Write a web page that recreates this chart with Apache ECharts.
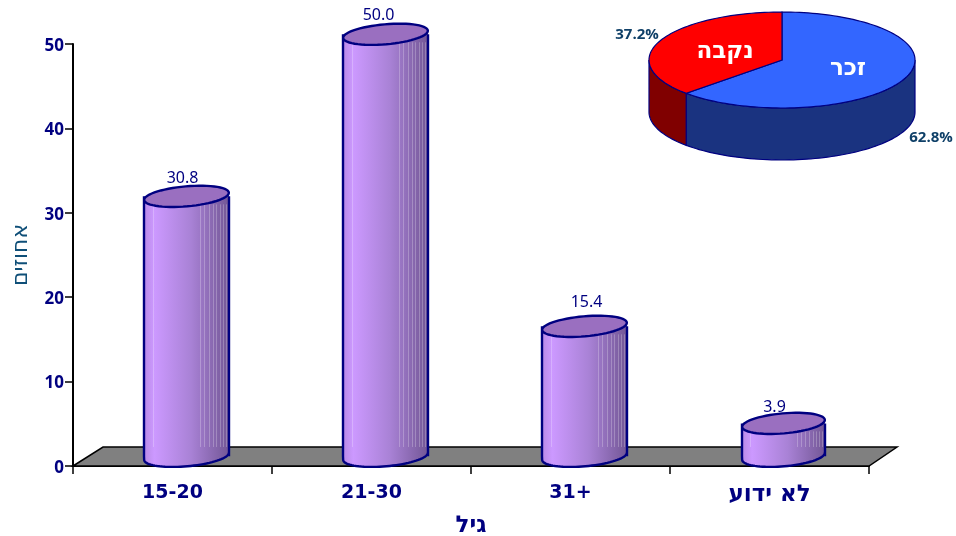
<!DOCTYPE html>
<html><head><meta charset="utf-8">
<style>html,body{margin:0;padding:0;background:#fff}#c{width:956px;height:536px}</style>
<script src="https://cdn.jsdelivr.net/npm/echarts@6/dist/echarts.min.js"></script>
</head><body><div id="c"></div>
<script>
const ageCategories = ['15-20', '21-30', '31+', 'לא ידוע'];
const ageValues = [30.8, 50.0, 15.4, 3.9];
const yTicks = {min: 0, max: 50, interval: 10};
const genderNames = ['זכר', 'נקבה'];
const genderValues = [62.8, 37.2];
const genderLabels = ['62.8%', '37.2%'];
const xAxisTitle = 'גיל';
const yAxisTitle = 'אחוזים';

const NAVY = '#000080';
const LABEL_FONT = '"DejaVu Sans", sans-serif';
const NUM_FONT = '"Noto Sans", "DejaVu Sans", sans-serif';
const chart = echarts.init(document.getElementById('c'), null, {renderer: 'canvas'});

function ellipsePoint(cx, cy, rx, ry, tilt, t) {
  const c = Math.cos(t), s = Math.sin(t);
  return [cx + rx * c * Math.cos(tilt) - ry * s * Math.sin(tilt),
          cy + rx * c * Math.sin(tilt) + ry * s * Math.cos(tilt)];
}
function arc(cx, cy, rx, ry, tilt, a, b, n) {
  const out = [];
  for (let i = 0; i <= n; i++) out.push(ellipsePoint(cx, cy, rx, ry, tilt, a + (b - a) * i / n));
  return out;
}

function renderFloor(params, api) {
  const c = params.coordSys;
  const y0 = api.coord([0, 0])[1];
  const dx = 29, dy = 19;
  return {type: 'polygon', silent: true,
    shape: {points: [[c.x, y0], [c.x + dx + 1, y0 - dy], [c.x + c.width + dx - 1, y0 - dy], [c.x + c.width, y0]]},
    style: {fill: '#808080', stroke: '#000', lineWidth: 1.5}};
}

const valueLabelShift = [[-4, -18], [-7, -19], [2, -24], [-9, -16]];
function renderCylinder(params, api) {
  const i = api.value(0);
  const v = api.value(1);
  const base = api.coord([i, 0]);
  const top = api.coord([i, v]);
  const cx = base[0] + 14, off = 9.7;
  const yb = base[1] - off, yt = top[1] - off;
  const floorTop = base[1] - 19;
  const rx = i === 3 ? 41.5 : 42.5, ry = 10, tilt = -5 * Math.PI / 180;
  const L = cx - rx, R = cx + rx;
  const lower = arc(cx, yb, rx, ry, tilt, Math.PI, 0, 40);
  const upper = arc(cx, yt, rx, ry, tilt, 0, Math.PI, 20);
  const grad = new echarts.graphic.LinearGradient(0, 0, 1, 0, [
    {offset: 0, color: '#b98ae6'}, {offset: 0.12, color: '#cc99ff'},
    {offset: 0.55, color: '#a982d6'}, {offset: 1, color: '#735796'}]);
  const children = [{type: 'polygon', shape: {points: lower.concat(upper)},
    style: {fill: grad, stroke: 'none'}}];
  const lineOffsets = [0.1, 0.66, 0.71, 0.76, 0.81, 0.85, 0.89, 0.93, 0.96];
  lineOffsets.forEach(o => {
    const x = Math.round(L + 2 * rx * o) + 0.5;
    children.push({type: 'line', shape: {x1: x, y1: yt + 8, x2: x, y2: floorTop},
      style: {stroke: 'rgba(255,255,255,0.24)', lineWidth: 1}});
  });
  children.push({type: 'polyline',
    shape: {points: [[L, yt]].concat([[L, yb]], lower, [[R, yb], [R, yt]])},
    style: {fill: 'none', stroke: NAVY, lineWidth: 2.4}});
  children.push({type: 'polygon', shape: {points: arc(cx, yt, rx, ry, tilt, 0, 2 * Math.PI, 60)},
    style: {fill: '#9a6fc0', stroke: NAVY, lineWidth: 2.4}});
  const shift = valueLabelShift[i];
  children.push({type: 'text', style: {text: v.toFixed(1), x: cx + shift[0], y: yt + shift[1],
    align: 'center', verticalAlign: 'middle', fill: NAVY, font: '16px ' + NUM_FONT}});
  return {type: 'group', children};
}

const PIE = {cx: 782, cy: 60, rx: 133, ry: 48, depth: 52};
function pieXY(t, dy) {
  return [PIE.cx + PIE.rx * Math.sin(t), PIE.cy + (dy || 0) - PIE.ry * Math.cos(t)];
}
function pieArc(a, b, dy) {
  const n = Math.max(4, Math.ceil((b - a) * 30)), out = [];
  for (let i = 0; i <= n; i++) out.push(pieXY(a + (b - a) * i / n, dy));
  return out;
}
const total = genderValues.reduce((a, b) => a + b, 0);
const pieStyle = [
  {top: '#3366ff', side: '#1a3380', textPos: [848, 69], labelPos: [931, 138]},
  {top: '#ff0000', side: '#800000', textPos: [725, 52], labelPos: [637, 35]}
];
function renderPie(params, api) {
  const i = api.value(0);
  let start = 0;
  for (let k = 0; k < i; k++) start += genderValues[k];
  const a = start / total * 2 * Math.PI;
  const b = (start + api.value(1)) / total * 2 * Math.PI;
  const s = pieStyle[i], children = [];
  const fa = Math.max(a, Math.PI / 2), fb = Math.min(b, 1.5 * Math.PI);
  if (fb > fa) {
    const topEdge = pieArc(fa, fb, 0);
    const botEdge = pieArc(fa, fb, PIE.depth).reverse();
    children.push({type: 'polygon', shape: {points: topEdge.concat(botEdge)},
      style: {fill: s.side, stroke: NAVY, lineWidth: 1.2}});
  }
  children.push({type: 'polygon',
    shape: {points: [[PIE.cx, PIE.cy]].concat(pieArc(a, b, 0))},
    style: {fill: s.top, stroke: NAVY, lineWidth: 1.2}});
  children.push({type: 'text', style: {text: genderNames[i], x: s.textPos[0], y: s.textPos[1],
    align: 'center', verticalAlign: 'middle', fill: '#fff', font: 'bold 23px ' + LABEL_FONT}});
  children.push({type: 'text', style: {text: genderLabels[i], x: s.labelPos[0], y: s.labelPos[1],
    align: 'center', verticalAlign: 'middle', fill: '#0f4068', font: 'bold 15px "Open Sans", sans-serif'}});
  return {type: 'group', children};
}

chart.setOption({
  animation: false,
  backgroundColor: '#fff',
  grid: {left: 73, top: 44, width: 796, height: 422, containLabel: false, outerBoundsMode: 'none'},
  xAxis: {
    type: 'category', data: ageCategories,
    name: xAxisTitle, nameLocation: 'middle', nameGap: 49,
    nameTextStyle: {color: NAVY, fontSize: 23, fontWeight: 'bold', fontFamily: LABEL_FONT},
    axisLine: {lineStyle: {color: '#000', width: 2}},
    axisTick: {show: true, alignWithLabel: false, length: 8, lineStyle: {color: '#000', width: 1.5}},
    axisLabel: {
      color: NAVY, fontSize: 19, fontWeight: 'bold', fontFamily: LABEL_FONT, margin: 18,
      formatter: v => /[\u0590-\u05ff]/.test(v) ? '{he|' + v + '}' : v,
      rich: {he: {fontSize: 23, fontWeight: 'bold', fontFamily: LABEL_FONT, color: NAVY}}
    }
  },
  yAxis: {
    type: 'value', min: yTicks.min, max: yTicks.max, interval: yTicks.interval,
    name: yAxisTitle, nameLocation: 'middle', nameGap: 41, nameRotate: 90,
    nameTextStyle: {color: '#0f4f78', fontSize: 22, fontFamily: LABEL_FONT},
    splitLine: {show: false},
    axisLine: {show: true, lineStyle: {color: '#000', width: 2}},
    axisTick: {show: true, length: 8, lineStyle: {color: '#000', width: 1.5}},
    axisLabel: {
      color: NAVY, fontSize: 17, fontWeight: 'bold', fontFamily: NUM_FONT, margin: 9,
      formatter: v => '{n|' + v + '}',
      rich: {n: {fontSize: 17, fontWeight: 'bold', fontFamily: NUM_FONT, color: NAVY, padding: [4, 0, 0, 0]}}
    }
  },
  series: [
    {type: 'custom', coordinateSystem: 'cartesian2d', renderItem: renderFloor, data: [[0, 0]],
     clip: false, silent: true, z: 1},
    {type: 'custom', coordinateSystem: 'cartesian2d', renderItem: renderCylinder,
     data: ageValues.map((v, i) => [i, v]), clip: false, silent: true, z: 3,
     encode: {x: 0, y: 1}},
    {type: 'custom', coordinateSystem: 'none', renderItem: renderPie,
     data: genderValues.map((v, i) => [i, v]), silent: true, z: 4}
  ]
});
</script></body></html>
